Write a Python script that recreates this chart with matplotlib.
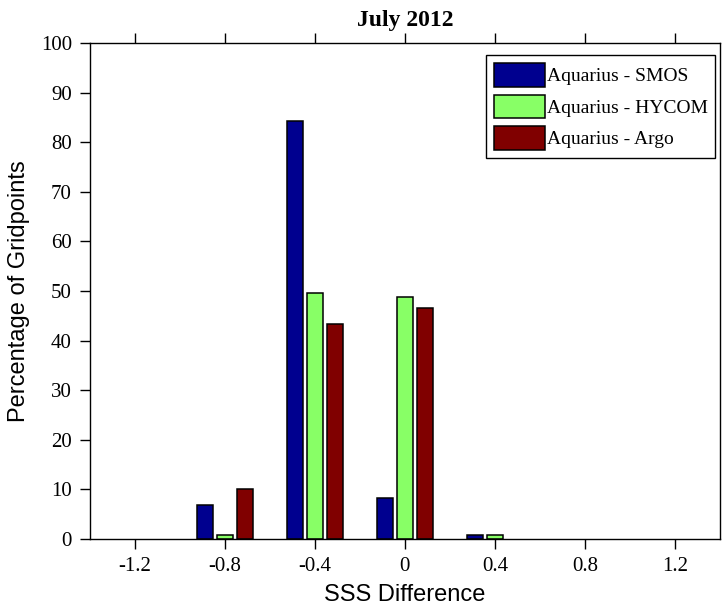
import numpy as np
import matplotlib.pyplot as plt

# histogram bins (SSS difference) and percentage of gridpoints per bin
bins = [-1.2, -0.8, -0.4, 0.0, 0.4, 0.8, 1.2]
smos = [0.0, 6.8, 84.2, 8.2, 0.9, 0.0, 0.0]
hycom = [0.0, 0.9, 49.6, 48.8, 0.9, 0.0, 0.0]
argo = [0.0, 10.0, 43.4, 46.6, 0.0, 0.0, 0.0]
names = ["Aquarius - SMOS", "Aquarius - HYCOM", "Aquarius - Argo"]
colors = ["#00008f", "#88ff66", "#800000"]

serif = "Liberation Serif"
sans = "Liberation Sans"

fig = plt.figure(figsize=(7.23, 6.10), dpi=100)
ax = fig.add_axes([0.1245, 0.1164, 0.871, 0.8131])

x = np.array(bins)
step = 0.4 * 2 / 9          # spacing between bars inside a group
width = 0.8 * step
for i, (vals, name, c) in enumerate(zip([smos, hycom, argo], names, colors)):
    v = np.array(vals)
    keep = v > 0            # empty bins draw nothing
    ax.bar(x[keep] + (i - 1) * step, v[keep], width, color=c,
           edgecolor="black", linewidth=1.1, label=name)

ax.set_xlim(-1.4, 1.4)
ax.set_ylim(0, 100)
ax.set_xticks(bins)
ax.set_xticklabels(["-1.2", "-0.8", "-0.4", "0", "0.4", "0.8", "1.2"])
ax.set_yticks(np.arange(0, 101, 10))
ax.tick_params(direction="out", length=7, width=1, top=True, right=False,
               labelsize=15, pad=6)
for lab in ax.get_xticklabels() + ax.get_yticklabels():
    lab.set_family(serif)
for s in ax.spines.values():
    s.set_linewidth(1.0)

ax.set_title("July 2012", family=serif, fontweight="bold", fontsize=17, pad=12)
ax.set_xlabel("SSS Difference", family=sans, fontsize=17, labelpad=6)
ax.set_ylabel("Percentage of Gridpoints", family=sans, fontsize=17, labelpad=8)

leg = ax.legend(loc="upper right", bbox_to_anchor=(0.993, 0.975),
                prop={"family": serif, "size": 14}, fancybox=False,
                edgecolor="black", framealpha=1, handlelength=2.6,
                handleheight=1.5, handletextpad=0.1, borderpad=0.4,
                labelspacing=0.4, borderaxespad=0)
leg.get_frame().set_linewidth(1.0)

fig.savefig("out.png", dpi=100)
